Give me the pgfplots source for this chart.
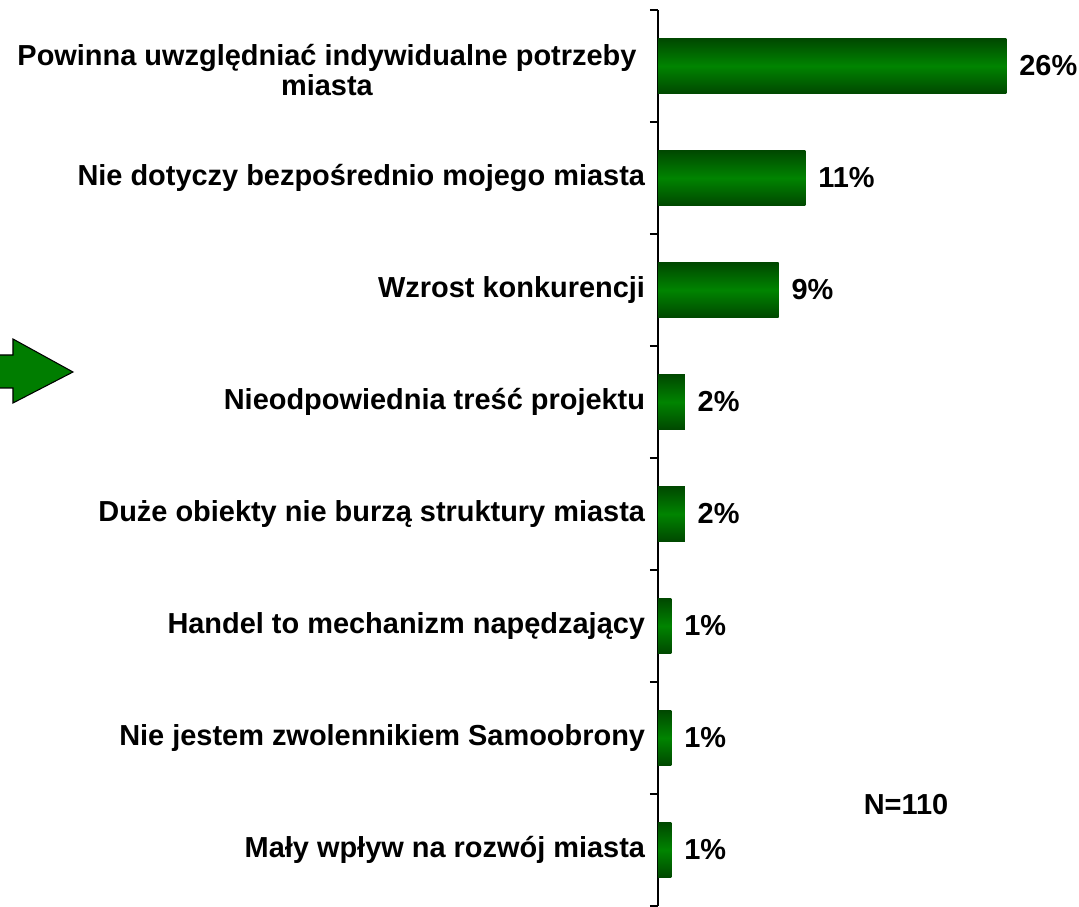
\documentclass[border=0pt]{standalone}
\usepackage{fontspec}
\setmainfont{Liberation Sans}
\usepackage{pgfplots}
\pgfplotsset{compat=1.18}
\definecolor{dkgreen}{RGB}{0,72,0}
\definecolor{mdgreen}{RGB}{0,132,0}
\newcommand{\lab}{\fontsize{21.7}{21.5}\selectfont\bfseries}
\begin{document}
\begin{tikzpicture}
% pixel frame: origin of axis at pixel (658,850); 1px = 0.75pt
\begin{scope}[x=0.75pt,y=-0.75pt,shift={(-493.5pt,637.5pt)}]
\useasboundingbox (0,0) rectangle (1079,902);
\clip (0,0) rectangle (1079,902);
\draw[black,line width=0.8pt,fill=mdgreen!95!black,line join=miter]
  (-5,355) -- (13,355) -- (13,339) -- (73,372) -- (13,403) -- (13,388) -- (-5,388) -- cycle;
\node[font=\lab,anchor=center] at (906,805) {N=110};
\end{scope}
\begin{axis}[
  anchor=origin, at={(0pt,0pt)},
  x=10.05pt, y=84pt,
  xmin=0, xmax=31, ymin=-0.5, ymax=7.5,
  axis x line=none, axis y line*=left,
  y axis line style={line width=1.3pt},
  ytick={0,...,7},
  yticklabels={Mały wpływ na rozwój miasta,
    Nie jestem zwolennikiem Samoobrony,
    Handel to mechanizm napędzający,
    Duże obiekty nie burzą struktury miasta,
    Nieodpowiednia treść projektu,
    Wzrost konkurencji,
    Nie dotyczy bezpośrednio mojego miasta,
    {\begin{tabular}{@{}c@{\hspace{6.5pt}}}\rule{0pt}{28.5pt}Powinna uwzględniać indywidualne potrzeby\\miasta\end{tabular}}},
  yticklabel style={font=\lab, inner sep=0pt, xshift=-9.5pt},
  major tick length=0pt,
  extra y ticks={-0.5,0.5,1.5,2.5,3.5,4.5,5.5,6.5,7.5},
  extra y tick labels={},
  extra y tick style={major tick length=6pt, tick align=outside, tick style={black,line width=0.9pt}},
  clip=false,
  /pgf/number format/assume math mode=true,
  gbar/.style={xbar, bar width=0.49, bar shift=0pt, draw=none,
    top color=dkgreen, bottom color=dkgreen, middle color=mdgreen,
    nodes near coords={\pgfmathprintnumber{\pgfplotspointmeta}\%},
    point meta=x,
    every node near coord/.append style={font=\lab, text=black, anchor=west, inner sep=0pt, xshift=9.5pt}},
]
\addplot[gbar] coordinates {(1,0)};
\addplot[gbar] coordinates {(1,1)};
\addplot[gbar] coordinates {(1,2)};
\addplot[gbar] coordinates {(2,3)};
\addplot[gbar] coordinates {(2,4)};
\addplot[gbar] coordinates {(9,5)};
\addplot[gbar] coordinates {(11,6)};
\addplot[gbar] coordinates {(26,7)};
\end{axis}
\end{tikzpicture}
\end{document}
